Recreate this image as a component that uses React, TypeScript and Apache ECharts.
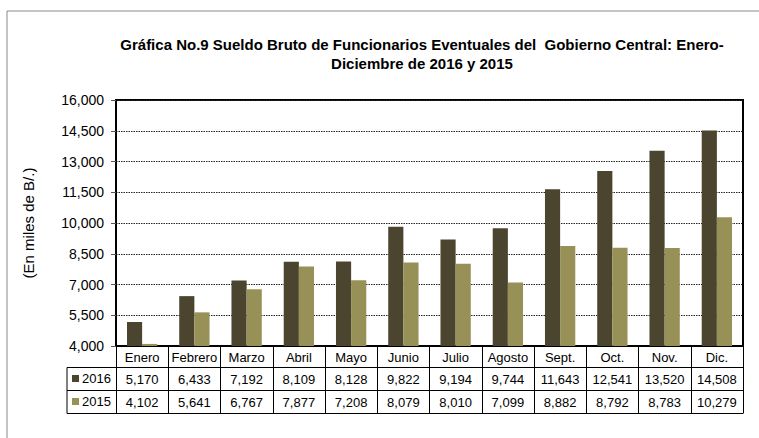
import React, { useEffect, useRef } from "react";
import * as echarts from "echarts";

const categories = ["Enero", "Febrero", "Marzo", "Abril", "Mayo", "Junio", "Julio", "Agosto", "Sept.", "Oct.", "Nov.", "Dic."];
const values2016 = [5170, 6433, 7192, 8109, 8128, 9822, 9194, 9744, 11643, 12541, 13520, 14508];
const values2015 = [4102, 5641, 6767, 7877, 7208, 8079, 8010, 7099, 8882, 8792, 8783, 10279];
const seriesNames = ["2016", "2015"];
const yMin = 4000;
const yMax = 16000;
const yInterval = 1500;
const titleText = "Gráfica No.9 Sueldo Bruto de Funcionarios Eventuales del  Gobierno Central: Enero-\nDiciembre de 2016 y 2015";
const yAxisName = "(En miles de B/.)";

const W = 759;
const H = 438;
const GRID_LEFT = 116;
const GRID_RIGHT = 743;
const GRID_TOP = 100;
const GRID_BOTTOM = 346;
const TABLE_LEFT = 67;
const ROW1 = 367.5;
const ROW2 = 390.5;
const ROW3 = 413.5;
const FONT = "'Liberation Sans', Arial, sans-serif";

const fmt = (v: number) => v.toLocaleString("en-US");

export default function App() {
  const ref = useRef<HTMLDivElement>(null);
  useEffect(() => {
    document.body.style.margin = "0";
    if (!ref.current) return;
    const chart = echarts.init(ref.current, null, { renderer: "svg" });
    const hLine = (y: number) => ({
      type: "line",
      shape: { x1: TABLE_LEFT, y1: y, x2: GRID_RIGHT, y2: y },
      style: { stroke: "#000", lineWidth: 1 },
      silent: true,
    });
    chart.setOption({
      animation: false,
      backgroundColor: "#fff",
      textStyle: { fontFamily: FONT },
      title: {
        text: titleText,
        left: 417,
        top: 30,
        textAlign: "center",
        textStyle: { fontFamily: FONT, fontSize: 15, fontWeight: "bold", color: "#000", lineHeight: 19 },
      },
      legend: {
        data: seriesNames,
        orient: "vertical",
        left: 72,
        top: 372,
        padding: 0,
        itemGap: 10,
        itemWidth: 7,
        itemHeight: 7,
        icon: "rect",
        textStyle: { fontFamily: FONT, fontSize: 13, color: "#000", padding: [0, 0, 0, -2] },
      },
      grid: {
        left: GRID_LEFT,
        right: W - GRID_RIGHT,
        top: GRID_TOP,
        bottom: H - GRID_BOTTOM,
        show: true,
        borderColor: "#000",
        borderWidth: 2,
        containLabel: false,
      },
      xAxis: {
        type: "category",
        data: categories,
        axisLine: { lineStyle: { color: "#000", width: 2 } },
        axisTick: { show: true, interval: 0, length: ROW3 - GRID_BOTTOM, lineStyle: { color: "#000", width: 1 } },
        axisLabel: {
          interval: 0,
          margin: 0,
          formatter: (value: string, index: number) =>
            `{c|${value}}\n{v|${fmt(values2016[index])}}\n{v|${fmt(values2015[index])}}`,
          rich: {
            c: { fontFamily: FONT, fontSize: 13, color: "#000", lineHeight: 22 },
            v: { fontFamily: FONT, fontSize: 13, color: "#000", lineHeight: 23 },
          },
        },
      },
      yAxis: {
        type: "value",
        min: yMin,
        max: yMax,
        interval: yInterval,
        name: yAxisName,
        nameLocation: "middle",
        nameRotate: 90,
        nameGap: 80,
        nameTextStyle: { fontFamily: FONT, fontSize: 15, color: "#000" },
        axisLine: { show: true, lineStyle: { color: "#000", width: 2 } },
        axisTick: { show: true, length: 5, lineStyle: { color: "#555", width: 1 } },
        axisLabel: {
          margin: 12,
          fontFamily: FONT,
          fontSize: 14,
          color: "#000",
          formatter: (v: number) => fmt(v),
        },
        splitLine: { show: true, lineStyle: { color: "#222", width: 1, type: [1.5, 1] } },
      },
      series: [
        {
          name: seriesNames[0],
          type: "bar",
          data: values2016,
          barGap: "0%",
          barCategoryGap: "42%",
          itemStyle: { color: "#4b452f" },
        },
        {
          name: seriesNames[1],
          type: "bar",
          data: values2015,
          itemStyle: { color: "#979057" },
        },
      ],
      graphic: [
        {
          type: "rect",
          shape: { x: 7, y: 11, width: 900, height: 600 },
          style: { fill: "none", stroke: "#8a8a8a", lineWidth: 1 },
          silent: true,
          z: -10,
        },
        hLine(ROW1),
        hLine(ROW2),
        hLine(ROW3),
        {
          type: "line",
          shape: { x1: TABLE_LEFT, y1: ROW1, x2: TABLE_LEFT, y2: ROW3 },
          style: { stroke: "#000", lineWidth: 1 },
          silent: true,
        },
      ],
    });
    return () => chart.dispose();
  }, []);
  return <div ref={ref} style={{ width: W, height: H }} />;
}
